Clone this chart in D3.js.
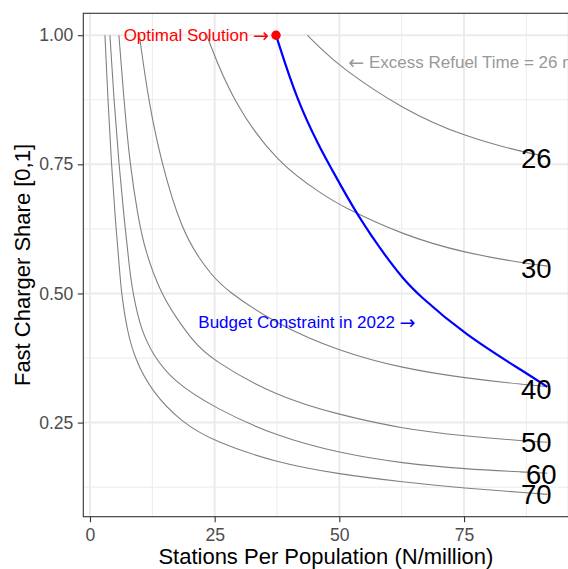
<!DOCTYPE html>
<html>
<head>
<meta charset="utf-8">
<script src="https://cdn.jsdelivr.net/npm/d3@7"></script>
<style>
  html, body { margin: 0; padding: 0; background: #ffffff; }
  svg { display: block; font-family: "Liberation Sans", Arial, Helvetica, sans-serif; }
</style>
</head>
<body>
<svg id="chart" width="568" height="569"></svg>
<script>
// Excess refuel time contours (minutes) over stations per million and fast charger share
const refuelTimes = [26, 30, 40, 50, 60, 70];

const stations26 = [43.6, 46.1, 50.0, 62.7, 75.2, 87.6, 91.7];
const share26    = [1.000, 0.976, 0.940, 0.856, 0.803, 0.772, 0.765];

const stations30 = [23.4, 28.4, 37.8, 47.0, 50.0, 62.7, 75.2, 87.6, 91.7];
const share30    = [1.000, 0.874, 0.749, 0.690, 0.671, 0.613, 0.578, 0.558, 0.553];

const stations40 = [9.9, 11.7, 14.4, 18.4, 22.1, 24.1, 27.1, 37.5, 50.0, 62.7, 75.2, 87.6, 91.7];
const share40    = [1.000, 0.874, 0.749, 0.623, 0.565, 0.540, 0.507, 0.440, 0.388, 0.355, 0.336, 0.323, 0.320];

const stations50 = [5.8, 6.8, 8.0, 9.6, 11.0, 14.2, 17.5, 20.5, 24.1, 37.5, 50.0, 62.7, 75.2, 87.6, 91.7];
const share50    = [1.000, 0.875, 0.750, 0.650, 0.584, 0.500, 0.450, 0.410, 0.373, 0.300, 0.265, 0.238, 0.224, 0.214, 0.212];

const stations60 = [4.0, 4.8, 5.8, 6.9, 7.9, 8.6, 10.2, 12.7, 16.7, 25.0, 37.5, 50.0, 62.7, 75.2, 87.6, 91.7];
const share60    = [1.000, 0.875, 0.750, 0.640, 0.550, 0.500, 0.430, 0.380, 0.330, 0.278, 0.223, 0.191, 0.171, 0.160, 0.154, 0.152];

const stations70 = [3.0, 3.6, 4.3, 5.1, 5.9, 6.3, 7.4, 9.0, 12.4, 18.4, 25.0, 37.5, 50.0, 62.7, 75.2, 87.6, 91.7];
const share70    = [1.000, 0.875, 0.750, 0.640, 0.550, 0.500, 0.430, 0.373, 0.310, 0.250, 0.213, 0.172, 0.150, 0.135, 0.123, 0.114, 0.111];

// Budget constraint for 2022
const budgetStations = [37.3, 41.5, 46.1, 48.0, 53.7, 59.8, 62.7, 65.5, 75.2, 87.6, 91.7];
const budgetShare    = [1.000, 0.874, 0.782, 0.749, 0.649, 0.565, 0.530, 0.500, 0.420, 0.345, 0.319];

// Optimal solution on the budget line
const optimalStations = 37.3;
const optimalShare = 1.0;

// Where each contour's value is written
const labelStations = [89.5, 89.5, 89.5, 89.5, 90.5, 89.5];
const labelShare    = [0.762, 0.549, 0.314, 0.211, 0.149, 0.110];

// Axis ticks
const xTicks = [0, 25, 50, 75];
const xTickLabels = ["0", "25", "50", "75"];
const xMinorTicks = [12.5, 37.5, 62.5, 87.5];
const yTicks = [0.25, 0.50, 0.75, 1.00];
const yTickLabels = ["0.25", "0.50", "0.75", "1.00"];
const yMinorTicks = [0.125, 0.375, 0.625, 0.875];

const contourStations = [stations26, stations30, stations40, stations50, stations60, stations70];
const contourShares   = [share26, share30, share40, share50, share60, share70];

const svg = d3.select("#chart");
const panel = { left: 83.3, right: 568.5, top: 13.3, bottom: 516.7 };

const x = d3.scaleLinear().domain([-1.34, 95.95]).range([panel.left, panel.right]);
const y = d3.scaleLinear().domain([0.0678, 1.0424]).range([panel.bottom, panel.top]);

svg.append("rect").attr("width", 568).attr("height", 569).attr("fill", "#ffffff");

svg.append("defs").append("clipPath").attr("id", "panel-clip")
  .append("rect")
  .attr("x", panel.left).attr("y", panel.top)
  .attr("width", panel.right - panel.left).attr("height", panel.bottom - panel.top);

const grid = svg.append("g");
grid.selectAll("line.xminor").data(xMinorTicks).join("line")
  .attr("x1", d => x(d)).attr("x2", d => x(d))
  .attr("y1", panel.top).attr("y2", panel.bottom)
  .attr("stroke", "#ebebeb").attr("stroke-width", 1);
grid.selectAll("line.yminor").data(yMinorTicks).join("line")
  .attr("y1", d => y(d)).attr("y2", d => y(d))
  .attr("x1", panel.left).attr("x2", panel.right)
  .attr("stroke", "#ebebeb").attr("stroke-width", 1);
grid.selectAll("line.xmajor").data(xTicks).join("line")
  .attr("x1", d => x(d)).attr("x2", d => x(d))
  .attr("y1", panel.top).attr("y2", panel.bottom)
  .attr("stroke", "#ebebeb").attr("stroke-width", 2);
grid.selectAll("line.ymajor").data(yTicks).join("line")
  .attr("y1", d => y(d)).attr("y2", d => y(d))
  .attr("x1", panel.left).attr("x2", panel.right)
  .attr("stroke", "#ebebeb").attr("stroke-width", 2);

const plot = svg.append("g").attr("clip-path", "url(#panel-clip)");

// Smooth B-spline through the sampled contour points
const line = d3.line()
  .x(d => x(d[0]))
  .y(d => y(d[1]))
  .curve(d3.curveBasis);

refuelTimes.forEach((t, i) => {
  const pts = contourStations[i].map((s, j) => [s, contourShares[i][j]]);
  plot.append("path")
    .attr("d", line(pts))
    .attr("fill", "none")
    .attr("stroke", "#808080")
    .attr("stroke-width", 1.1);
});

const budgetPts = budgetStations.map((s, j) => [s, budgetShare[j]]);
plot.append("path")
  .attr("d", line(budgetPts))
  .attr("fill", "none")
  .attr("stroke", "#0000ff")
  .attr("stroke-width", 2.2);

plot.append("circle")
  .attr("cx", x(optimalStations)).attr("cy", y(optimalShare))
  .attr("r", 4.7).attr("fill", "#ff0000");

// Contour value labels
plot.selectAll("text.contour").data(refuelTimes).join("text")
  .attr("x", (d, i) => x(labelStations[i]))
  .attr("y", (d, i) => y(labelShare[i]))
  .attr("text-anchor", "middle")
  .attr("dominant-baseline", "central")
  .attr("font-size", 27.5)
  .attr("fill", "#000000")
  .text(d => d);

// Annotations (arrows drawn with a font that has a full-width arrow glyph)
function annotate(xv, yv, anchor, color, parts) {
  const t = plot.append("text")
    .attr("x", x(xv)).attr("y", y(yv))
    .attr("text-anchor", anchor).attr("dominant-baseline", "central")
    .attr("font-size", 17).attr("fill", color);
  parts.forEach(p => {
    const s = t.append("tspan").text(p.text);
    if (p.arrow) s.attr("font-family", "DejaVu Sans").attr("font-size", 19);
  });
  return t;
}

const optText = annotate(optimalStations, optimalShare, "end", "#ff0000",
  [{ text: "Optimal Solution " }, { text: "\u2192", arrow: true }]);
optText.attr("x", x(optimalStations) - 7);

annotate(51.8, 0.9475, "start", "#999999",
  [{ text: "\u2190", arrow: true }, { text: " Excess Refuel Time = 26 min" }]);

annotate(43.5, 0.4453, "middle", "#0000ff",
  [{ text: "Budget Constraint in 2022 " }, { text: "\u2192", arrow: true }]);

// Panel border
svg.append("rect")
  .attr("x", panel.left).attr("y", panel.top)
  .attr("width", panel.right - panel.left).attr("height", panel.bottom - panel.top)
  .attr("fill", "none").attr("stroke", "#333333").attr("stroke-width", 1.1);

// Axes
const xAxis = d3.axisBottom(x).tickValues(xTicks)
  .tickFormat((d, i) => xTickLabels[i]).tickSize(5.5).tickPadding(6.2);
const gx = svg.append("g").attr("transform", `translate(0,${panel.bottom})`).call(xAxis);
gx.select(".domain").remove();
gx.selectAll(".tick line").attr("stroke", "#333333").attr("stroke-width", 1.1);
gx.selectAll(".tick text").attr("fill", "#4d4d4d").attr("font-size", 17.6)
  .attr("font-family", "Liberation Sans, Arial, Helvetica, sans-serif");

const yAxis = d3.axisLeft(y).tickValues(yTicks)
  .tickFormat((d, i) => yTickLabels[i]).tickSize(5.5).tickPadding(4.4);
const gy = svg.append("g").attr("transform", `translate(${panel.left},0)`).call(yAxis);
gy.select(".domain").remove();
gy.selectAll(".tick line").attr("stroke", "#333333").attr("stroke-width", 1.1);
gy.selectAll(".tick text").attr("fill", "#4d4d4d").attr("font-size", 17.6)
  .attr("font-family", "Liberation Sans, Arial, Helvetica, sans-serif");

// Axis titles
svg.append("text")
  .attr("x", (panel.left + panel.right) / 2).attr("y", 564)
  .attr("text-anchor", "middle").attr("font-size", 22).attr("fill", "#000000")
  .text("Stations Per Population (N/million)");

svg.append("text")
  .attr("transform", `translate(30,${(panel.top + panel.bottom) / 2}) rotate(-90)`)
  .attr("text-anchor", "middle").attr("font-size", 22).attr("fill", "#000000")
  .text("Fast Charger Share [0,1]");
</script>
</body>
</html>
